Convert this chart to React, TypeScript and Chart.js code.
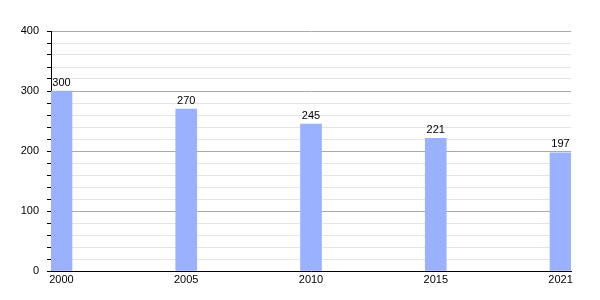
import React, { useEffect, useRef } from "react";
import { Chart, registerables } from "chart.js";

Chart.register(...registerables);

const years = ["2000", "2005", "2010", "2015", "2021"];
const population = [300, 270, 245, 221, 197];
const yTicks = [0, 20, 40, 60, 80, 100, 120, 140, 160, 180, 200, 220, 240, 260, 280, 300, 320, 340, 360, 380, 400];

const valueLabels = {
  id: "valueLabels",
  afterDatasetsDraw(chart: any) {
    const ctx = chart.ctx;
    const meta = chart.getDatasetMeta(0);
    ctx.save();
    ctx.font = "11px 'Liberation Sans', Arial, sans-serif";
    ctx.fillStyle = "#000";
    ctx.textAlign = "center";
    ctx.textBaseline = "bottom";
    meta.data.forEach((bar: any, i: number) => {
      ctx.fillText(String(population[i]), bar.x, bar.y - 3);
    });
    ctx.restore();
  },
};

export default function App() {
  const ref = useRef<HTMLCanvasElement>(null);
  useEffect(() => {
    if (!ref.current) return;
    Chart.defaults.font.family = "'Liberation Sans', Arial, sans-serif";
    Chart.defaults.font.size = 11;
    Chart.defaults.color = "#000";
    const chart = new Chart(ref.current, {
      type: "bar",
      data: {
        datasets: [
          {
            data: population.map((v, i) => ({ x: i, y: v })),
            backgroundColor: "#99b1ff",
            borderWidth: 0,
            barThickness: 21,
          },
        ],
      },
      options: {
        animation: false,
        responsive: false,
        layout: { padding: { top: 31, right: 29, bottom: 0, left: 0 } },
        plugins: { legend: { display: false }, tooltip: { enabled: false } },
        scales: {
          x: {
            type: "linear",
            offset: false,
            min: -0.084,
            max: 4.084,
            afterBuildTicks: (s: any) => {
              s.ticks = years.map((_, i) => ({ value: i }));
            },
            afterFit: (s: any) => {
              s.height = 29;
            },
            grid: { offset: false, drawOnChartArea: false, drawTicks: false, color: "transparent" },
            border: { display: true, color: "#000", width: 1 },
            ticks: {
              padding: 2,
              autoSkip: false,
              maxRotation: 0,
              callback: (v: any) => years[v] ?? "",
              color: "#000",
            },
          },
          y: {
            min: 0,
            max: 400,
            afterBuildTicks: (s: any) => {
              s.ticks = yTicks.map((v) => ({ value: v }));
            },
            afterFit: (s: any) => {
              s.width = 51;
            },
            grid: {
              color: (c: any) => (c.tick && c.tick.value % 100 === 0 ? "#aaaaaa" : "#e4e4e4"),
              tickColor: "#000",
              tickLength: 4,
            },
            border: { display: true, color: "#000", width: 1 },
            ticks: {
              padding: 8,
              autoSkip: false,
              callback: (v: any) => (Number(v) % 100 === 0 ? String(v) : ""),
              color: "#000",
            },
          },
        },
      },
      plugins: [valueLabels],
    } as any);
    return () => chart.destroy();
  }, []);
  return (
    <div style={{ position: "fixed", left: 0, top: 0, width: 600, height: 300, background: "#fff" }}>
      <canvas ref={ref} width={600} height={300} style={{ width: 600, height: 300 }} />
    </div>
  );
}
